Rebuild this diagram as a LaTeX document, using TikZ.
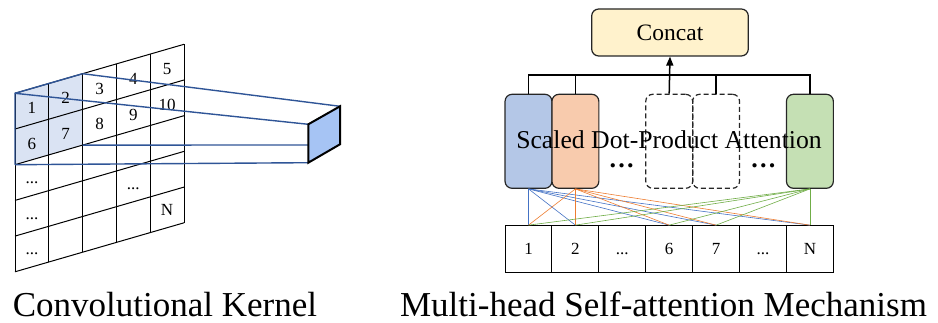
\documentclass[tikz,border=0pt]{standalone}
\usepackage{fontspec}
\setmainfont{Liberation Serif}
\usetikzlibrary{arrows.meta}

\definecolor{cellhl}{HTML}{DAE3F3}
\definecolor{kernelblue}{HTML}{2F5597}
\definecolor{blockfill}{HTML}{A6C4F4}
\definecolor{concatfill}{HTML}{FFF2CC}
\definecolor{headblue}{HTML}{B4C7E7}
\definecolor{headorange}{HTML}{F8CBAD}
\definecolor{headgreen}{HTML}{C5E0B4}
\definecolor{wireblue}{HTML}{4472C4}
\definecolor{wireorange}{HTML}{ED7D31}
\definecolor{wiregreen}{HTML}{70AD47}
\definecolor{edgegray}{HTML}{262626}

\begin{document}
\begin{tikzpicture}[x=1pt,y=-1pt,
  gridline/.style={line width=1pt,black},
  kline/.style={line width=1.4pt,kernelblue},
  digit/.style={inner sep=0pt,text height=11.5pt,text depth=0pt,
    font=\fontsize{17}{20}\selectfont},
  headbox/.style={draw=edgegray,line width=1.2pt,rounded corners=7pt,
    minimum width=46.9pt,minimum height=94pt,inner sep=0pt},
  token/.style={draw=black,line width=1pt,minimum width=46.9pt,
    minimum height=46.7pt,inner sep=0pt,text height=11.5pt,text depth=0pt,
    font=\fontsize{17}{20}\selectfont},
  bus/.style={line width=1.5pt,black},
  wire/.style={line width=0.6pt},
  hdots/.style={anchor=base,inner sep=0pt,
    font=\bfseries\fontsize{26}{28}\selectfont},
  caption/.style={anchor=base,inner sep=0pt,font=\fontsize{35}{40}\selectfont}]

\path[use as bounding box] (0,0) rectangle (938,323);

% ---------- convolution kernel over the input grid ----------
\begin{scope}[shift={(15pt,-93.3pt)},x={(33.8pt,9.8pt)},y={(0pt,-35.7pt)}]
  \fill[cellhl] (0,0) -- (2,0) -- (2,2) -- (0,2) -- cycle;
  \foreach \i in {0,...,5} \draw[gridline] (\i,0) -- (\i,5);
  \foreach \j in {0,...,5} \draw[gridline] (0,\j) -- (5,\j);
  \coordinate (k00) at (0,0);
  \coordinate (k20) at (2,0);
  \coordinate (k22) at (2,2);
  \coordinate (k02) at (0,2);
  \node[digit] (g1)  at (0.5,0.55) {1};
  \node[digit] (g2)  at (1.5,0.55) {2};
  \node[digit] (g3)  at (2.5,0.55) {3};
  \node[digit] (g4)  at (3.5,0.55) {4};
  \node[digit] (g5)  at (4.5,0.55) {5};
  \node[digit] (g6)  at (0.5,1.55) {6};
  \node[digit] (g7)  at (1.5,1.55) {7};
  \node[digit] (g8)  at (2.5,1.55) {8};
  \node[digit] (g9)  at (3.5,1.55) {9};
  \node[digit] (g10) at (4.5,1.55) {10};
  \node[digit] (gd1) at (0.5,2.5) {...};
  \node[digit] (gd2) at (0.5,3.5) {...};
  \node[digit] (gd3) at (0.5,4.5) {...};
  \node[digit] (gd4) at (3.5,3.5) {...};
  \node[digit] (gN)  at (4.5,4.5) {N};
\end{scope}

% output cell of the kernel
\coordinate (bft) at (308.3,124.3);
\coordinate (bbt) at (340,106.3);
\coordinate (bbb) at (340,144.3);
\coordinate (bfb) at (308.3,162.7);
\coordinate (bfm) at (308.3,145);

\draw[kline] (k02) -- (k00) -- (k20);
\draw[kline] (k00) -- (bft);
\draw[kline] (k20) -- (bbt);
\draw[kline] (k22) -- (bfm);
\draw[kline] (k02) -- (bfb);
\filldraw[fill=blockfill,draw=black,line width=2pt,line join=miter]
  (bft) -- (bbt) -- (bbb) -- (bfb) -- cycle;

% ---------- multi-head self-attention ----------
\node[draw=edgegray,line width=1.2pt,fill=concatfill,rounded corners=7pt,
  minimum width=156.6pt,minimum height=47pt,
  font=\fontsize{23.5}{28}\selectfont] (concat) at (670,32.5) {Concat};

\node[headbox,fill=headblue]   (h1) at (528.5,141.3) {};
\node[headbox,fill=headorange] (h2) at (575.4,141.3) {};
\node[headbox,dashed,dash pattern=on 5pt off 3pt] (h3) at (669.2,141.3) {};
\node[headbox,dashed,dash pattern=on 5pt off 3pt] (h4) at (716.1,141.3) {};
\node[headbox,fill=headgreen]  (h5) at (809.9,141.3) {};

\node[anchor=base,inner sep=0pt,text depth=0pt,
  font=\fontsize{25.7}{30}\selectfont] (sdpa) at (669,149)
  {Scaled Dot-Product Attention};
\node[hdots] (dl) at (621.7,168) {…};
\node[hdots] (dr) at (763.3,168) {…};

% bus into Concat
\coordinate (busl) at (528.5,75);
\draw[bus] (h1.north) -- (busl) -| (h5.north);
\draw[bus] (h2.north) -- (h2.north |- busl);
\draw[bus] (h4.north) -- (h4.north |- busl);
\draw[bus,-{Triangle[length=9pt,width=7pt]}] (h3.north) -- (concat.south);

% input tokens
\node[token] (t1) at (528.5,249) {1};
\node[token] (t2) at (575.4,249) {2};
\node[token] (t3) at (622.3,249) {...};
\node[token] (t6) at (669.2,249) {6};
\node[token] (t7) at (716.1,249) {7};
\node[token] (t8) at (763.0,249) {...};
\node[token] (tN) at (809.9,249) {N};

% attention wiring from heads to tokens
\foreach \h/\c in {h1/wireblue,h2/wireorange,h5/wiregreen}
  \foreach \t in {t1,t2,t6,t7,tN}
    \draw[wire,\c] (\h.south) -- (\t.north);

% ---------- captions ----------
\node[caption] (capL) at (165,316.7) {Convolutional Kernel};
\node[caption] (capR) at (663.5,316.7) {Multi-head Self-attention Mechanism};
\end{tikzpicture}
\end{document}
